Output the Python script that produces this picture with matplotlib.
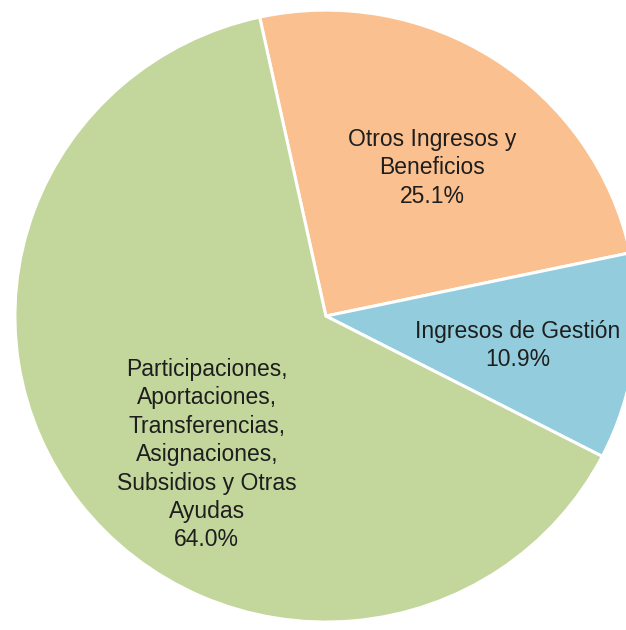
import matplotlib
matplotlib.use("Agg")
import matplotlib.pyplot as plt

# slices, clockwise from the top
labels = ["Otros Ingresos y\nBeneficios",
          "Ingresos de Gestión",
          "Participaciones,\nAportaciones,\nTransferencias,\nAsignaciones,\nSubsidios y Otras\nAyudas"]
shares = [25.1, 10.9, 64.0]
colors = ["#FAC090", "#93CDDD", "#C3D69B"]

# label centres in pie units
label_pos = [(0.342, 0.485), (0.617, -0.096), (-0.383, -0.453)]

plt.rcParams['font.family'] = ['Liberation Sans', 'DejaVu Sans']

fig = plt.figure(figsize=(6.26, 6.30), dpi=100)
ax = fig.add_axes([0, 0, 1, 1])

ax.pie(shares, colors=colors, startangle=102.3, counterclock=False,
       radius=1.0, wedgeprops=dict(edgecolor='white', linewidth=2.2))

for lab, val, (x, y) in zip(labels, shares, label_pos):
    ax.text(x, y, f"{lab}\n{val:.1f}%", ha='center', va='center',
            multialignment='center', fontsize=16.5, color='#1e1e1e',
            linespacing=1.3)

# slightly wider than tall, and clipped on the right like the original
ax.set_aspect('auto')
ax.set_xlim(-1.048, 0.965)
ax.set_ylim(-1.026, 1.033)
ax.axis('off')

fig.savefig("out.png", dpi=100, facecolor='white')
